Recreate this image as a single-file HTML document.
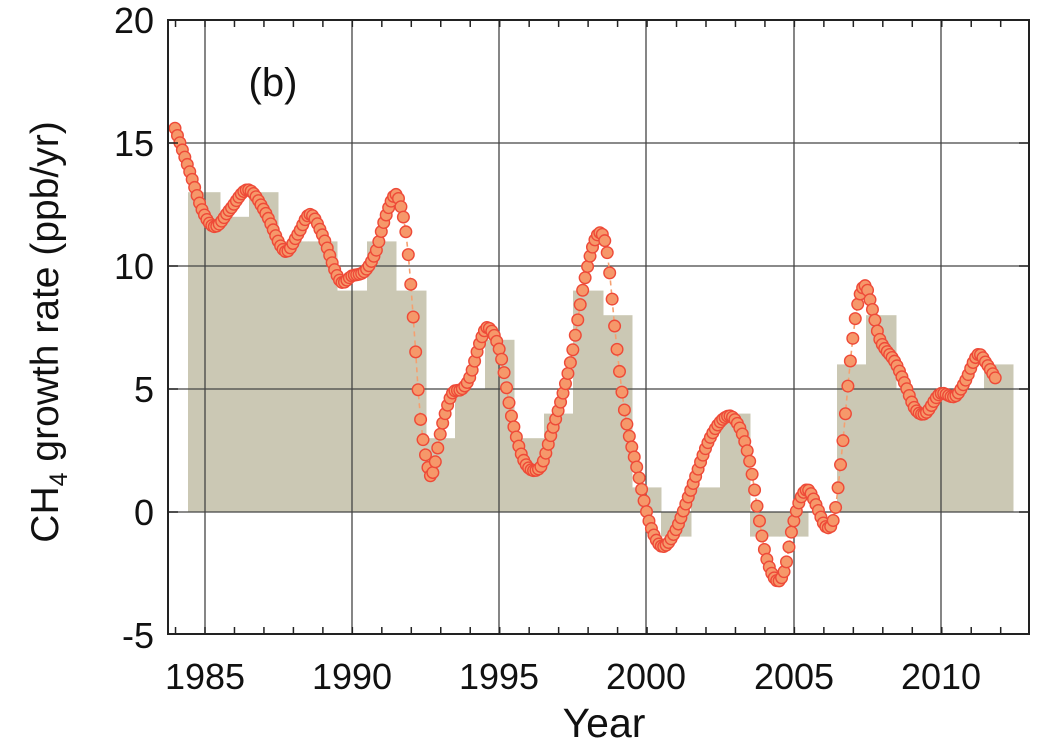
<!DOCTYPE html>
<html><head><style>
html,body{margin:0;padding:0;background:#fff;}
svg{display:block;}
text{font-family:"Liberation Sans",sans-serif;fill:#111;}
</style></head><body>
<svg id="s" width="1060" height="754" viewBox="0 0 1060 754" xmlns="http://www.w3.org/2000/svg">
<g id="bars" fill="#cbc8b4"></g>
<g id="grid" stroke="#444" stroke-width="1.3"></g>
<polyline id="dash" fill="none" stroke="#f5a070" stroke-width="1.6" stroke-dasharray="5,4"/>
<g id="dots" fill="#f6986a" stroke="#ee4a38" stroke-width="1.4"></g>
<rect x="168" y="20" width="861" height="614" fill="none" stroke="#222" stroke-width="2"/>
<g id="ticks" stroke="#222" stroke-width="1.5"></g>
<g font-size="36" text-anchor="end">
<text x="154" y="33">20</text><text x="154" y="156">15</text><text x="154" y="279">10</text>
<text x="154" y="402">5</text><text x="154" y="525">0</text><text x="154" y="648">-5</text>
</g>
<g font-size="36" text-anchor="middle">
<text x="205" y="689">1985</text><text x="352" y="689">1990</text><text x="499" y="689">1995</text>
<text x="646" y="689">2000</text><text x="794" y="689">2005</text><text x="941" y="689">2010</text>
</g>
<text x="604" y="737" font-size="41" text-anchor="middle">Year</text>
<text x="273" y="96" font-size="40" text-anchor="middle">(b)</text>
<text font-size="39" text-anchor="middle" transform="translate(58,332) rotate(-90)">CH<tspan font-size="25" dy="9">4</tspan><tspan dy="-9"> growth rate (ppb/yr)</tspan></text>
</svg>
<script>
var NS="http://www.w3.org/2000/svg";
function el(p,t,a){var e=document.createElementNS(NS,t);for(var k in a)e.setAttribute(k,a[k]);document.getElementById(p).appendChild(e);}
function Y(v){return 512-v*24.6;}
var edges=[188,220,249,278,308,337,367,396,426,455,485,514,544,573,603,632,661,691,720,750,779,808,837,866,896,925,955,984,1013];
var vals=[13,12,13,11,11,9,11,9,3,5,7,3,4,9,8,1,-1,1,4,-1,-1,0,6,8,5,5,5,6];
for(var i=0;i<vals.length;i++){var v=vals[i];if(!v)continue;var a=Y(Math.max(v,0)),b=Y(Math.min(v,0));
el("bars","rect",{x:edges[i],y:a,width:edges[i+1]-edges[i]+0.5,height:b-a});}
[143,266,389,512].forEach(function(y){el("grid","line",{x1:168,x2:1029,y1:y,y2:y});});
[205,352,499,646,794,941].forEach(function(x){el("grid","line",{x1:x,x2:x,y1:20,y2:634});});
for(var yr=1984;yr<=2012;yr++){var x=205+(yr-1985)*29.47;if(x<169||x>1028)continue;
el("ticks","line",{x1:x,x2:x,y1:634,y2:627});el("ticks","line",{x1:x,x2:x,y1:20,y2:27});}
[143,266,389,512].forEach(function(y){el("ticks","line",{x1:168,x2:178,y1:y,y2:y});el("ticks","line",{x1:1019,x2:1029,y1:y,y2:y});});
var K=[[175,15.6],[190,13.8],[203,12.2],[215,11.6],[230,12.3],[248,13.1],[265,12.2],[285,10.6],[298,11.3],[310,12.1],[322,11.3],[340,9.4],[352,9.6],[365,9.8],[376,10.6],[384,11.8],[395,12.9],[401,12.4],[407,11],[414,7.5],[420,4],[427,2.0],[432,1.5],[442,3.5],[452,4.8],[462,5.0],[470,5.5],[480,6.9],[488,7.5],[500,6.5],[512,3.8],[525,2.0],[540,1.8],[550,3],[570,6],[585,9.5],[598,11.3],[607,10.6],[616,7],[625,4],[638,1.6],[650,-0.5],[662,-1.4],[675,-0.8],[690,0.8],[710,3.0],[728,3.9],[740,3.4],[750,2.0],[758,0],[766,-1.8],[777,-2.8],[785,-2.3],[792,-0.7],[800,0.5],[808,0.9],[816,0.3],[826,-0.6],[834,-0.2],[842,2.5],[850,6],[857,8.3],[865,9.2],[872,8.3],[880,7.0],[895,6.1],[905,5.2],[915,4.2],[925,4.0],[940,4.8],[955,4.7],[965,5.3],[978,6.4],[987,6.0],[996,5.4]];
function interp(x){for(var i=0;i<K.length-1;i++){if(x<=K[i+1][0]){var x0=K[i][0],x1=K[i+1][0],y0=K[i][1],y1=K[i+1][1];
var m0=i>0?(K[i+1][1]-K[i-1][1])/(K[i+1][0]-K[i-1][0]):(y1-y0)/(x1-x0);
var m1=i<K.length-2?(K[i+2][1]-K[i][1])/(K[i+2][0]-K[i][0]):(y1-y0)/(x1-x0);
var h=x1-x0,t=(x-x0)/h,t2=t*t,t3=t2*t;
return (2*t3-3*t2+1)*y0+(t3-2*t2+t)*h*m0+(-2*t3+3*t2)*y1+(t3-t2)*h*m1;}}return K[K.length-1][1];}
var pts=[];for(var x=175;x<=996.5;x+=29.47/12){var y=Y(interp(x));pts.push(x.toFixed(1)+","+y.toFixed(1));el("dots","circle",{cx:x,cy:y,r:5.8});}
document.getElementById("dash").setAttribute("points",pts.join(" "));
</script>
</body></html>
